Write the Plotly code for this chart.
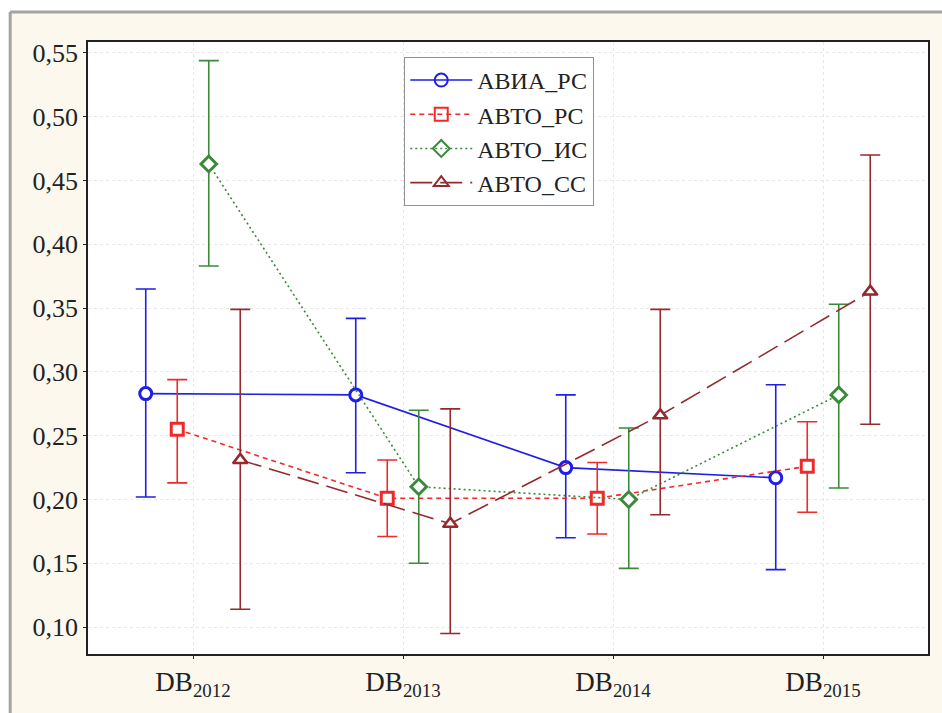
import plotly.graph_objects as go

# ---- data ----
years = ["2012", "2013", "2014", "2015"]
tick_labels = ["DB<sub>2012</sub>", "DB<sub>2013</sub>", "DB<sub>2014</sub>", "DB<sub>2015</sub>"]
y_ticks = [0.10, 0.15, 0.20, 0.25, 0.30, 0.35, 0.40, 0.45, 0.50, 0.55]

series_names = ["АВИА_РС", "АВТО_РС", "АВТО_ИС", "АВТО_СС"]

avia_rs_mean = [0.283, 0.282, 0.225, 0.217]
avia_rs_hi = [0.365, 0.342, 0.282, 0.290]
avia_rs_lo = [0.202, 0.221, 0.170, 0.145]

avto_rs_mean = [0.255, 0.201, 0.201, 0.226]
avto_rs_hi = [0.294, 0.231, 0.229, 0.261]
avto_rs_lo = [0.213, 0.171, 0.173, 0.190]

avto_is_mean = [0.463, 0.210, 0.200, 0.282]
avto_is_hi = [0.544, 0.270, 0.256, 0.353]
avto_is_lo = [0.383, 0.150, 0.146, 0.209]

avto_ss_mean = [0.231, 0.181, 0.266, 0.363]
avto_ss_hi = [0.349, 0.271, 0.349, 0.470]
avto_ss_lo = [0.114, 0.095, 0.188, 0.259]

# ---- style ----
colors = ["#1f1fe8", "#ee2a2a", "#3a8a3a", "#952a2e"]
symbols = ["circle-open", "square-open", "diamond-open", "triangle-up-open"]
dashes = ["solid", "5px,4px", "2px,3px", "22px,8px"]
offsets = [-0.225, -0.075, 0.075, 0.225]

W, H = 942, 713
L, R, T, B = 88, 930, 42, 656


def xp(px):
    return (px - L) / (R - L)


def yp(py):
    return (B - py) / (B - T)


font_family = "Liberation Serif, Times New Roman, serif"

fig = go.Figure()
data = [
    (avia_rs_mean, avia_rs_hi, avia_rs_lo),
    (avto_rs_mean, avto_rs_hi, avto_rs_lo),
    (avto_is_mean, avto_is_hi, avto_is_lo),
    (avto_ss_mean, avto_ss_hi, avto_ss_lo),
]
for i, (name, (m, hi, lo)) in enumerate(zip(series_names, data)):
    xs = [j + offsets[i] for j in range(len(years))]
    fig.add_trace(go.Scatter(
        x=xs, y=m, name=name, mode="lines+markers",
        line=dict(color=colors[i], width=1.6, dash=dashes[i]),
        marker=dict(symbol=symbols[i], size=13, color=colors[i],
                    line=dict(width=2.0, color=colors[i])),
        error_y=dict(type="data", symmetric=False,
                     array=[h - v for h, v in zip(hi, m)],
                     arrayminus=[v - l for v, l in zip(m, lo)],
                     color=colors[i], thickness=1.6, width=10),
    ))
    # white fill for open markers
    fig.add_trace(go.Scatter(
        x=xs, y=m, mode="markers", showlegend=False, hoverinfo="skip",
        marker=dict(symbol=symbols[i].replace("-open", ""), size=11, color="white",
                    line=dict(width=2.0, color=colors[i])),
    ))

shapes = [
    # white outside frame
    dict(type="rect", xref="paper", yref="paper", x0=xp(-20), x1=xp(9), y0=yp(H + 20), y1=yp(-20),
         fillcolor="white", line=dict(width=0), layer="below"),
    dict(type="rect", xref="paper", yref="paper", x0=xp(-20), x1=xp(W + 20), y0=yp(11), y1=yp(-20),
         fillcolor="white", line=dict(width=0), layer="below"),
    # gray frame lines
    dict(type="line", xref="paper", yref="paper", x0=xp(10), x1=xp(10), y0=yp(12), y1=yp(H + 5),
         line=dict(color="#a4a4a4", width=3), layer="below"),
    dict(type="line", xref="paper", yref="paper", x0=xp(10), x1=xp(W + 5), y0=yp(12), y1=yp(12),
         line=dict(color="#a4a4a4", width=3), layer="below"),
]

fig.update_layout(
    width=W, height=H,
    margin=dict(l=L, r=W - R, t=T, b=H - B),
    paper_bgcolor="#fcf8ee",
    plot_bgcolor="white",
    separators=", ",
    font=dict(family=font_family, size=26, color="#222222"),
    shapes=shapes,
    showlegend=True,
    legend=dict(
        x=xp(405), y=yp(57), xanchor="left", yanchor="top",
        bgcolor="white", bordercolor="#909090", borderwidth=1,
        font=dict(family=font_family, size=24, color="#222222"),
        tracegroupgap=0, itemwidth=62,
    ),
    xaxis=dict(
        range=[-0.5, 3.5], tickmode="array", tickvals=list(range(len(years))),
        ticktext=tick_labels, showgrid=True, gridcolor="#e8e8e8", griddash="dot",
        zeroline=False, showline=True, linecolor="#222222", linewidth=1.5, mirror=True,
        ticks="outside", ticklen=3, tickcolor="#222222",
        tickfont=dict(family=font_family, size=27),
    ),
    yaxis=dict(
        range=[0.0789, 0.5586], tickmode="array", tickvals=y_ticks,
        tickformat=".2f", showgrid=True, gridcolor="#e8e8e8", griddash="dot",
        zeroline=False, showline=True, linecolor="#222222", linewidth=1.5, mirror=True,
        ticks="outside", ticklen=3, tickcolor="#222222",
        tickfont=dict(family=font_family, size=26),
    ),
)

fig.write_html("out.html")
